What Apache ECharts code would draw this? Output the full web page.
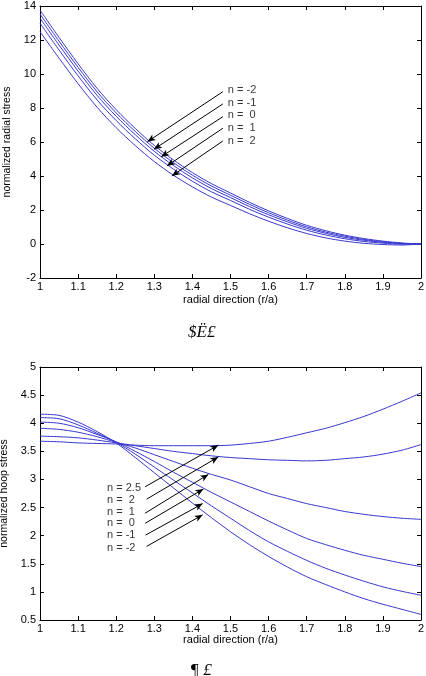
<!DOCTYPE html>
<html>
<head>
<meta charset="utf-8">
<script src="https://cdn.jsdelivr.net/npm/echarts@6/dist/echarts.min.js"></script>
<style>
html,body{margin:0;padding:0;background:#fff;}
#chart{width:426px;height:676px;}
</style>
</head>
<body>
<div id="chart"></div>
<script>
// ---------- data ----------
const xs = [1.00,1.05,1.10,1.15,1.20,1.25,1.30,1.35,1.40,1.45,1.50,1.55,1.60,1.65,1.70,1.75,1.80,1.85,1.90,1.95,2.00];

// normalized radial stress (top chart)
const radialNm2 = [13.76,12.15,10.60,9.15,7.90,6.80,5.80,4.95,4.20,3.55,3.00,2.45,1.95,1.50,1.10,0.78,0.52,0.32,0.17,0.06,0.00];
const radialNm1 = [13.53,11.93,10.39,8.95,7.71,6.62,5.63,4.79,4.05,3.41,2.87,2.33,1.84,1.40,1.01,0.70,0.46,0.27,0.13,0.04,0.00];
const radialN0  = [13.29,11.70,10.17,8.74,7.51,6.43,5.45,4.62,3.89,3.26,2.73,2.20,1.72,1.30,0.92,0.63,0.39,0.22,0.10,0.02,0.00];
const radialN1  = [12.99,11.41,9.89,8.47,7.26,6.19,5.22,4.41,3.69,3.07,2.56,2.04,1.58,1.17,0.81,0.53,0.31,0.15,0.05,-0.01,0.00];
const radialN2  = [12.49,10.93,9.43,8.04,6.84,5.79,4.85,4.05,3.36,2.76,2.27,1.78,1.34,0.95,0.62,0.36,0.17,0.04,-0.03,-0.06,0.00];

// normalized hoop stress (bottom chart)
const hoopN25  = [3.68,3.67,3.65,3.64,3.63,3.61,3.60,3.60,3.60,3.60,3.61,3.64,3.68,3.75,3.83,3.91,4.01,4.12,4.25,4.39,4.54];
const hoopN2   = [3.77,3.76,3.74,3.70,3.65,3.60,3.55,3.50,3.46,3.42,3.39,3.37,3.35,3.34,3.33,3.34,3.37,3.40,3.45,3.52,3.62];
const hoopN1   = [3.91,3.89,3.84,3.76,3.66,3.56,3.44,3.32,3.20,3.09,2.99,2.87,2.75,2.66,2.57,2.50,2.43,2.38,2.34,2.31,2.29];
const hoopN0   = [4.02,4.00,3.92,3.80,3.67,3.50,3.32,3.13,2.95,2.77,2.60,2.43,2.26,2.10,1.95,1.84,1.74,1.65,1.58,1.51,1.45];
const hoopNm1  = [4.10,4.08,3.97,3.82,3.66,3.45,3.22,2.99,2.76,2.53,2.31,2.09,1.89,1.72,1.56,1.42,1.30,1.19,1.09,1.01,0.94];
const hoopNm2  = [4.16,4.14,4.02,3.85,3.65,3.39,3.12,2.85,2.58,2.32,2.07,1.84,1.63,1.44,1.27,1.13,1.00,0.88,0.78,0.69,0.60];

// annotation labels and arrows (data coordinates)
const radialLabels = ['n = -2','n = -1','n =  0','n =  1','n =  2'];
const radialLabelPos = [[1.493,9.06],[1.493,8.31],[1.493,7.59],[1.493,6.84],[1.493,6.08]];
const radialArrowFrom = [[1.480,8.96],[1.480,8.24],[1.480,7.49],[1.480,6.81],[1.480,6.06]];
const radialArrowTo = [[1.282,6.02],[1.299,5.57],[1.318,5.13],[1.333,4.59],[1.346,4.00]];

const hoopLabels = ['n = 2.5','n =  2','n =  1','n =  0','n = -1','n = -2'];
const hoopLabelPos = [[1.176,2.85],[1.176,2.63],[1.176,2.43],[1.176,2.22],[1.176,2.01],[1.176,1.79]];
const hoopArrowFrom = [[1.276,2.87],[1.280,2.65],[1.276,2.40],[1.276,2.22],[1.277,2.01],[1.280,1.81]];
const hoopArrowTo = [[1.468,3.61],[1.468,3.40],[1.442,3.09],[1.429,2.83],[1.427,2.57],[1.427,2.37]];

// ---------- chart ----------
const FONT = 'Liberation Sans, Arial, sans-serif';
const LINE = '#3838d0';
const chart = echarts.init(document.getElementById('chart'), null, {renderer:'canvas'});

function pairs(ys){ return xs.map((x,i)=>[x, ys[i]]); }

function lineSeries(ys, g){
  return {type:'line', xAxisIndex:g*2, yAxisIndex:g*2, data:pairs(ys), showSymbol:false,
    symbol:'none', smooth:0.3,
    lineStyle:{color:LINE, width:1}, silent:true, animation:false, z:3};
}

function annotSeries(g, labels, pos, from, to){
  return {type:'scatter', xAxisIndex:g*2, yAxisIndex:g*2, symbolSize:0, silent:true, animation:false,
    data: labels.map((t,i)=>({value:pos[i], name:t})),
    label:{show:true, formatter:p=>p.name, position:[0,0], align:'left', verticalAlign:'middle',
      color:'#000', fontFamily:FONT, fontSize:11},
    markLine:{silent:true, animation:false, symbol:['none','arrow'], symbolSize:[5,8],
      lineStyle:{color:'#000', width:1, type:'solid'}, label:{show:false},
      data: from.map((f,i)=>[{coord:f},{coord:to[i]}])}
  };
}

const axisCommon = {
  axisLine:{show:true, onZero:false, lineStyle:{color:'#000', width:1}},
  axisTick:{show:true, inside:true, length:4, lineStyle:{color:'#000'}},
  splitLine:{show:false},
};

function xAxes(g, gap){
  return [
    Object.assign({type:'value', gridIndex:g, min:1, max:2, interval:0.1, position:'bottom',
      name:'radial direction (r/a)', nameLocation:'middle', nameGap:gap,
      nameTextStyle:{fontFamily:FONT, fontSize:11, color:'#000'},
      axisLabel:{fontFamily:FONT, fontSize:11, color:'#000', margin:3,
        formatter:v=>String(Math.round(v*10)/10)}}, axisCommon),
    Object.assign({type:'value', gridIndex:g, min:1, max:2, interval:0.1, position:'top',
      axisLabel:{show:false}}, axisCommon)
  ];
}
function yAxes(g, min, max, interval, name){
  return [
    Object.assign({type:'value', gridIndex:g, min:min, max:max, interval:interval, position:'left',
      name:name, nameLocation:'middle', nameGap:23,
      nameTextStyle:{fontFamily:FONT, fontSize:10.5, color:'#000'},
      axisLabel:{fontFamily:FONT, fontSize:11, color:'#000', margin:4,
        formatter:v=>String(Math.round(v*10)/10)}}, axisCommon),
    Object.assign({type:'value', gridIndex:g, min:min, max:max, interval:interval, position:'right',
      axisLabel:{show:false}}, axisCommon)
  ];
}

const option = {
  backgroundColor:'#fff',
  animation:false,
  grid:[
    {left:40, top:6, width:381, height:272, containLabel:false, outerBoundsMode:'none'},
    {left:40, top:367, width:381, height:253, containLabel:false, outerBoundsMode:'none'}
  ],
  xAxis:[...xAxes(0,16.5), ...xAxes(1,12.5)],
  yAxis:[...yAxes(0,-2,14,2,'normalized radial stress'), ...yAxes(1,0.5,5,0.5,'normalized hoop stress')],
  series:[
    lineSeries(radialNm2,0), lineSeries(radialNm1,0), lineSeries(radialN0,0), lineSeries(radialN1,0), lineSeries(radialN2,0),
    annotSeries(0, radialLabels, radialLabelPos, radialArrowFrom, radialArrowTo),
    lineSeries(hoopN25,1), lineSeries(hoopN2,1), lineSeries(hoopN1,1), lineSeries(hoopN0,1), lineSeries(hoopNm1,1), lineSeries(hoopNm2,1),
    annotSeries(1, hoopLabels, hoopLabelPos, hoopArrowFrom, hoopArrowTo)
  ],
  graphic:[
    {type:'text', left:188, top:324, style:{text:'$Ë£', font:'italic 17px "Liberation Serif", serif', fill:'#000'}},
    {type:'text', left:190, top:662, style:{text:'¶ £', font:'italic 17px "Liberation Serif", serif', fill:'#000'}}
  ]
};
chart.setOption(option);
</script>
</body>
</html>
